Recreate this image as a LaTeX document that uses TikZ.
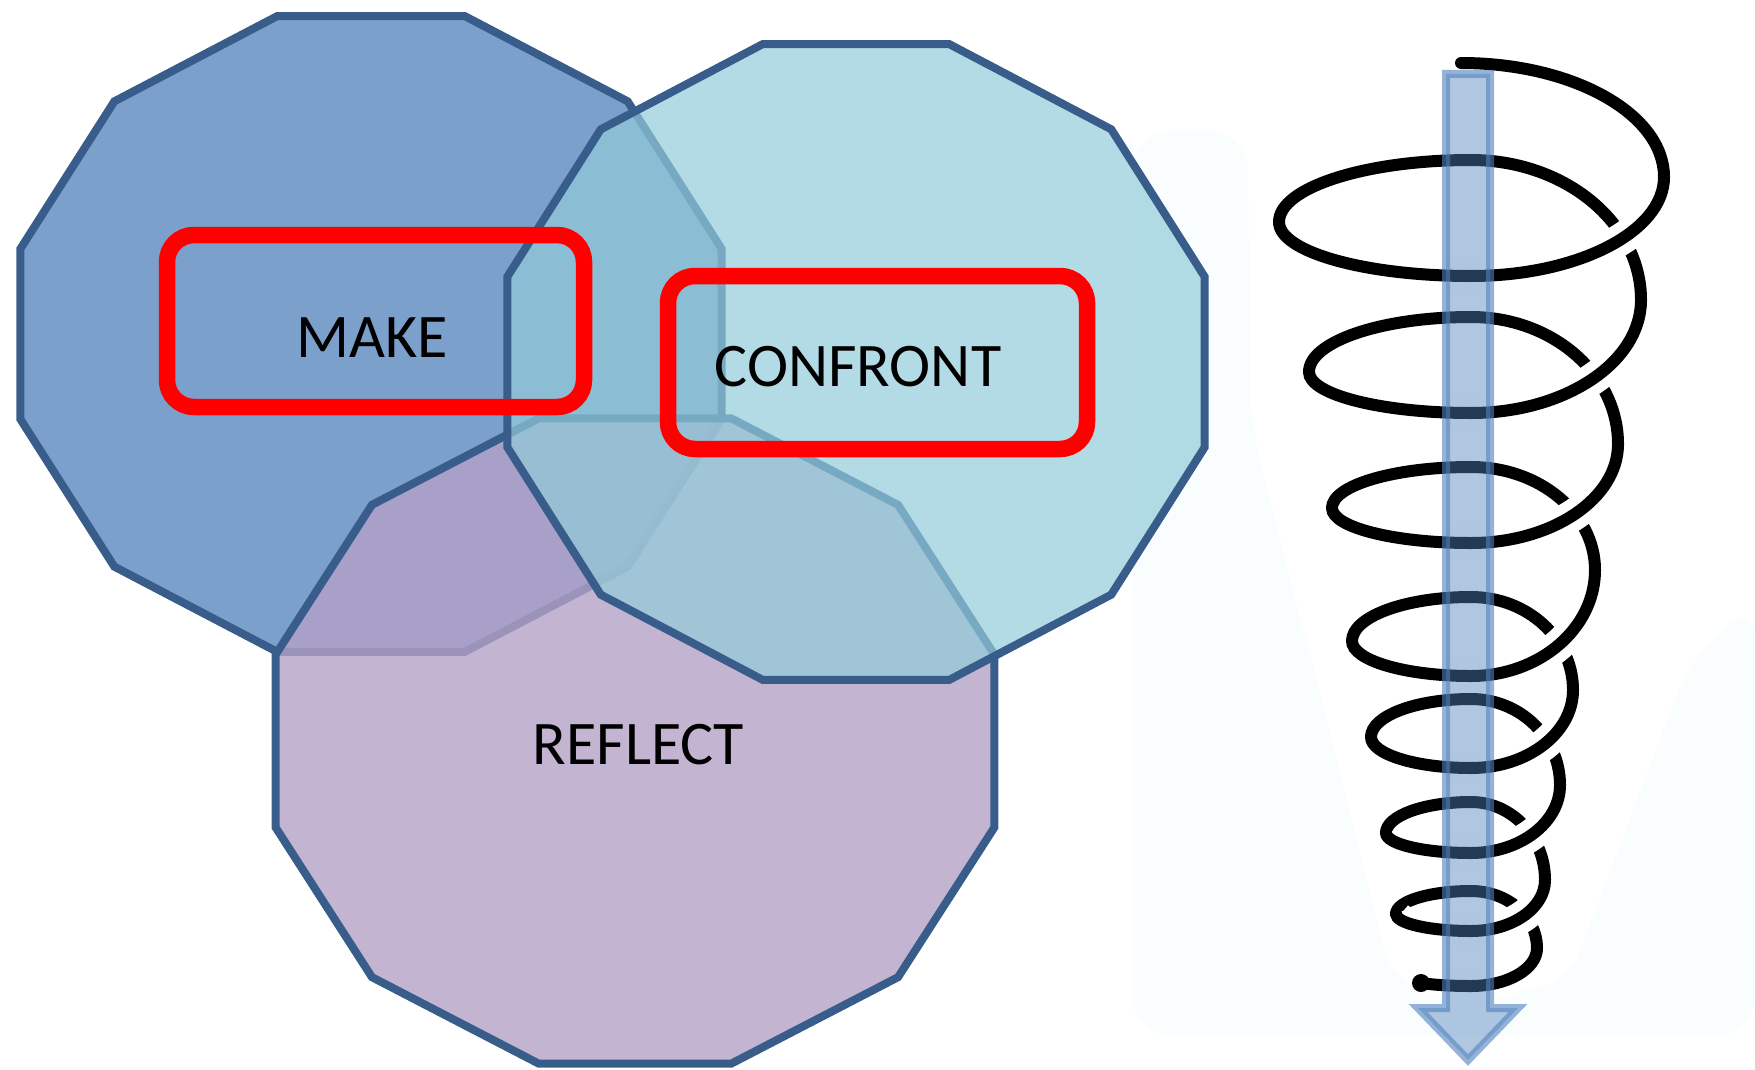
\documentclass[tikz,border=0pt]{standalone}
\usepackage{fontspec}
\setmainfont{Carlito}
\usetikzlibrary{calc}
\definecolor{edge}{RGB}{56,93,138}
\definecolor{makefill}{RGB}{123,160,204}
\definecolor{reflectfill}{RGB}{180,161,199}
\definecolor{confrontfill}{RGB}{146,204,218}
\definecolor{arrowblue}{RGB}{79,129,189}
\definecolor{haze}{RGB}{249,253,254}
\newcommand\qk{0.5523}
\begin{document}
\begin{tikzpicture}[x=0.5pt,y=-0.5pt,
  petal/.style={draw=edge, line width=4pt, line join=miter},
  redbox/.style={draw=red, line width=8.25pt, rounded corners=13.5pt, inner sep=0pt},
  lbl/.style={font=\fontsize{31pt}{31pt}\selectfont, text=black, inner sep=0pt, anchor=base},
  coil/.style={draw=black, line width=6pt, line cap=round},
  halo/.style={draw=white, line width=16pt, line cap=butt},
  shaft/.style={fill=arrowblue, fill opacity=0.45, draw=arrowblue, draw opacity=0.6, line width=4pt, line join=miter}]
\useasboundingbox (0,0) rectangle (1755,1070);

% pale backdrop behind the spiral
\fill[haze, rounded corners=20pt] (1132,1036) -- (1132,131) -- (1248,131) -- (1250,420)
  -- (1395,990) -- (1565,990) -- (1690,660) -- (1755,600) -- (1755,1036) -- cycle;

% three overlapping dodecagons
\filldraw[petal, fill=makefill, shift={(371,334)}]
  plot[samples at={15,45,...,345}] (\x:363 and 329) -- cycle;
\filldraw[petal, fill=reflectfill, fill opacity=0.8, shift={(635,741)}]
  plot[samples at={15,45,...,345}] (\x:372 and 334) -- cycle;
\filldraw[petal, fill=confrontfill, fill opacity=0.7, shift={(856,362)}]
  plot[samples at={15,45,...,345}] (\x:361 and 329) -- cycle;

% highlight frames
\node[redbox, minimum width=208.5pt, minimum height=86pt] (makebox) at (375.5,321) {};
\node[redbox, minimum width=209.5pt, minimum height=86.5pt] (confrontbox) at (877.5,362.5) {};

% labels
\node[lbl] (make) at (372.5,357) {MAKE};
\node[lbl] (confront) at (858,386) {CONFRONT};
\node[lbl] (reflect) at (638.5,764) {REFLECT};

% spiral: extreme points of each turn
\coordinate (S) at (1461,63);
\coordinate (R1) at (1664,177);
\coordinate (B1) at (1471,276);
\coordinate (L1) at (1279,222);
\coordinate (T1) at (1471,160);
\coordinate (R2) at (1641,300);
\coordinate (B2) at (1471,413);
\coordinate (L2) at (1309,372);
\coordinate (T2) at (1471,317);
\coordinate (R3) at (1618,444);
\coordinate (B3) at (1471,543);
\coordinate (L3) at (1332,508);
\coordinate (T3) at (1471,467);
\coordinate (R4) at (1595,570);
\coordinate (B4) at (1471,676);
\coordinate (L4) at (1352,641);
\coordinate (T4) at (1471,597);
\coordinate (R5) at (1573,690);
\coordinate (B5) at (1471,768);
\coordinate (L5) at (1371,737);
\coordinate (T5) at (1471,699);
\coordinate (R6) at (1560,785);
\coordinate (B6) at (1471,853);
\coordinate (L6) at (1386,833);
\coordinate (T6) at (1471,802);
\coordinate (R7) at (1545,880);
\coordinate (B7) at (1471,931);
\coordinate (L7) at (1396,914);
\coordinate (T7) at (1471,891);
\coordinate (R8) at (1537,948);
\coordinate (B8) at (1471,986);
\coordinate (E) at (1421,983);

% back halves of the turns
\draw[coil] (S) .. controls ($(S)!\qk!(S-|R1)$) and ($(R1)!\qk!(S-|R1)$) .. (R1);
\foreach \k [evaluate=\k as \n using int(\k+1)] in {1,...,7} {
  \draw[coil] (L\k) .. controls ($(L\k)!\qk!(L\k|-T\k)$) and ($(T\k)!\qk!(L\k|-T\k)$) .. (T\k)
    .. controls ($(T\k)!\qk!(T\k-|R\n)$) and ($(R\n)!\qk!(T\k-|R\n)$) .. (R\n);
}
% front halves, each cut out of the back halves it passes over
\foreach \k in {1,...,7} {
  \draw[halo] (R\k) .. controls ($(R\k)!\qk!(R\k|-B\k)$) and ($(B\k)!\qk!(R\k|-B\k)$) .. (B\k)
    .. controls ($(B\k)!\qk!(B\k-|L\k)$) and ($(L\k)!\qk!(B\k-|L\k)$) .. (L\k);
  \draw[coil] (R\k) .. controls ($(R\k)!\qk!(R\k|-B\k)$) and ($(B\k)!\qk!(R\k|-B\k)$) .. (B\k)
    .. controls ($(B\k)!\qk!(B\k-|L\k)$) and ($(L\k)!\qk!(B\k-|L\k)$) .. (L\k);
}
\draw[halo] (R8) .. controls ($(R8)!\qk!(R8|-B8)$) and ($(B8)!\qk!(R8|-B8)$) .. (B8)
  .. controls (1452,986) and (1435,985) .. (E);
\draw[coil] (R8) .. controls ($(R8)!\qk!(R8|-B8)$) and ($(B8)!\qk!(R8|-B8)$) .. (B8)
  .. controls (1452,986) and (1435,985) .. (E);
\fill[black] (E) circle[radius=9];

% downward arrow through the spiral
\path[shaft] (1446,74) -- (1490,74) -- (1490,1008) -- (1518,1008) -- (1468,1060)
  -- (1418,1008) -- (1446,1008) -- cycle;
\end{tikzpicture}
\end{document}
